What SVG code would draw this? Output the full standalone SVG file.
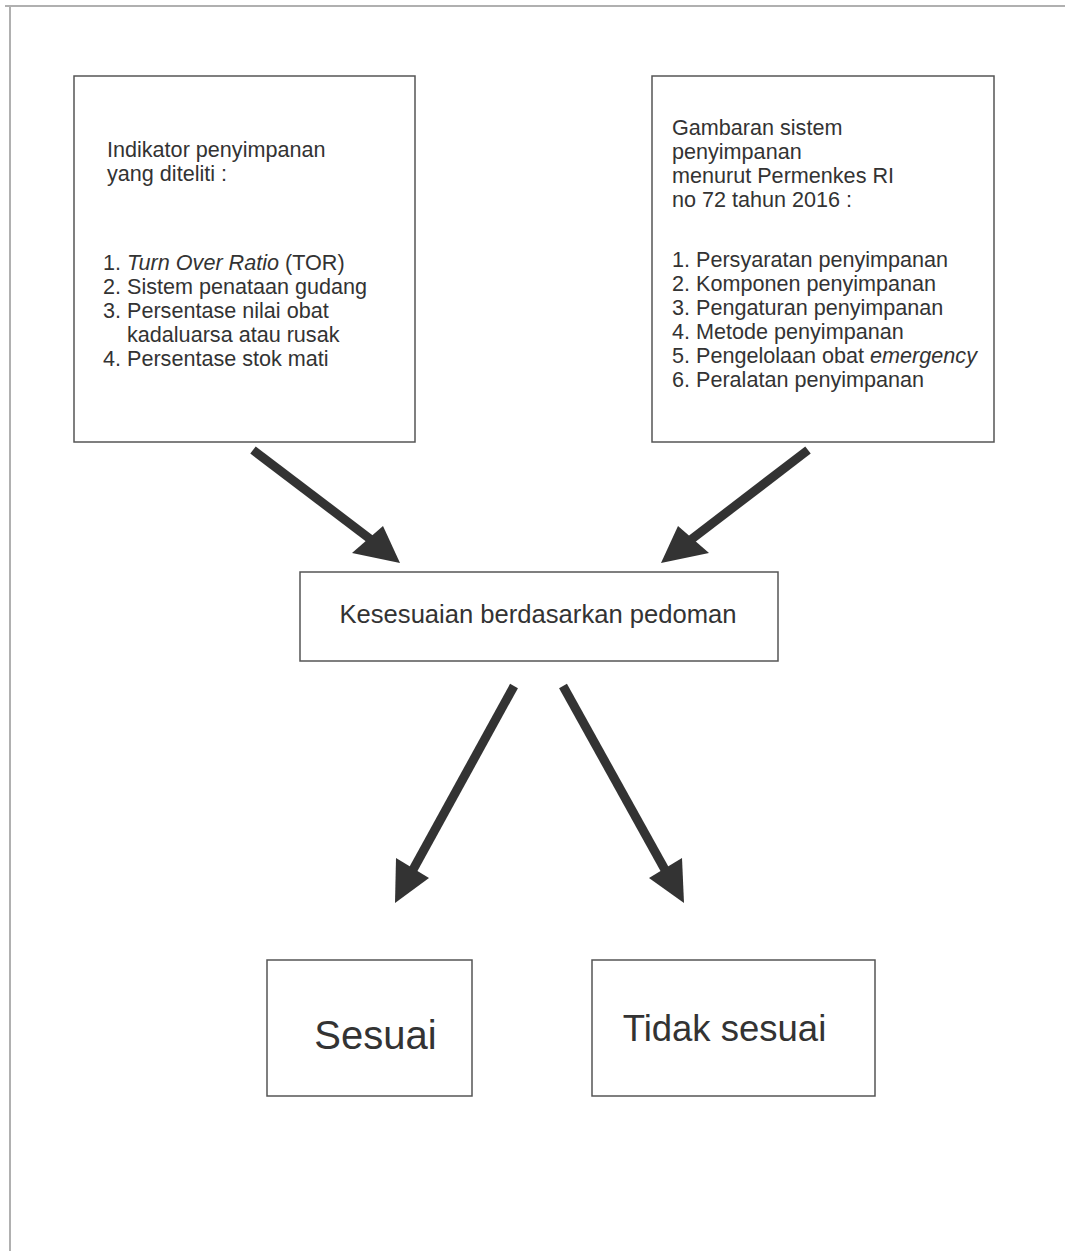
<svg xmlns="http://www.w3.org/2000/svg" width="1065" height="1251" viewBox="0 0 1065 1251">
<defs>
<style>
.box{fill:#fff;stroke:#555;stroke-width:1.5}
.t{font-family:"Liberation Sans",Arial,sans-serif;fill:#333;font-size:21.6px}
.big{font-family:"Liberation Sans",Arial,sans-serif;fill:#333}
.arr{stroke:#333;stroke-width:9;fill:none}
.head{fill:#333}
</style>
</defs>
<rect width="1065" height="1251" fill="#fff"/>
<g id="page-border" stroke="#b0b0b0" stroke-width="2" fill="none">
<path d="M5 6 H1065 M10 6 V1251"/>
</g>
<g id="node-indikator">
<rect class="box" x="74" y="76" width="341" height="366"/>
<text class="t" x="107" y="157">Indikator penyimpanan</text>
<text class="t" x="107" y="181">yang diteliti :</text>
<text class="t" x="103" y="270">1. <tspan font-style="italic">Turn Over Ratio</tspan> (TOR)</text>
<text class="t" x="103" y="294">2. Sistem penataan gudang</text>
<text class="t" x="103" y="318">3. Persentase nilai obat</text>
<text class="t" x="127" y="342">kadaluarsa atau rusak</text>
<text class="t" x="103" y="366">4. Persentase stok mati</text>
</g>
<g id="node-gambaran">
<rect class="box" x="652" y="76" width="342" height="366"/>
<text class="t" x="672" y="135">Gambaran sistem</text>
<text class="t" x="672" y="159">penyimpanan</text>
<text class="t" x="672" y="183">menurut Permenkes RI</text>
<text class="t" x="672" y="207">no 72 tahun 2016 :</text>
<text class="t" x="672" y="267">1. Persyaratan penyimpanan</text>
<text class="t" x="672" y="291">2. Komponen penyimpanan</text>
<text class="t" x="672" y="315">3. Pengaturan penyimpanan</text>
<text class="t" x="672" y="339">4. Metode penyimpanan</text>
<text class="t" x="672" y="363">5. Pengelolaan obat <tspan font-style="italic">emergency</tspan></text>
<text class="t" x="672" y="387">6. Peralatan penyimpanan</text>
</g>
<g id="node-kesesuaian">
<rect class="box" x="300" y="572" width="478" height="89"/>
<text class="t" x="538" y="623" text-anchor="middle" style="font-size:25.6px">Kesesuaian berdasarkan pedoman</text>
</g>
<g id="node-sesuai">
<rect class="box" x="267" y="960" width="205" height="136"/>
<text class="big" x="375.5" y="1049" text-anchor="middle" font-size="40">Sesuai</text>
</g>
<g id="node-tidak-sesuai">
<rect class="box" x="592" y="960" width="283" height="136"/>
<text class="big" x="724.5" y="1041" text-anchor="middle" font-size="36.5">Tidak sesuai</text>
</g>
<g id="connectors">
<line class="arr" x1="253" y1="450" x2="378" y2="545"/>
<polygon class="head" points="400,563 352,553 383,526"/>
<line class="arr" x1="808" y1="450" x2="684" y2="545"/>
<polygon class="head" points="661,563 678,526 709,553"/>
<line class="arr" x1="514" y1="686" x2="409" y2="877"/>
<polygon class="head" points="395,903 396,858 429,878"/>
<line class="arr" x1="563" y1="686" x2="669" y2="877"/>
<polygon class="head" points="684,903 649,878 682,858"/>
</g>
</svg>
